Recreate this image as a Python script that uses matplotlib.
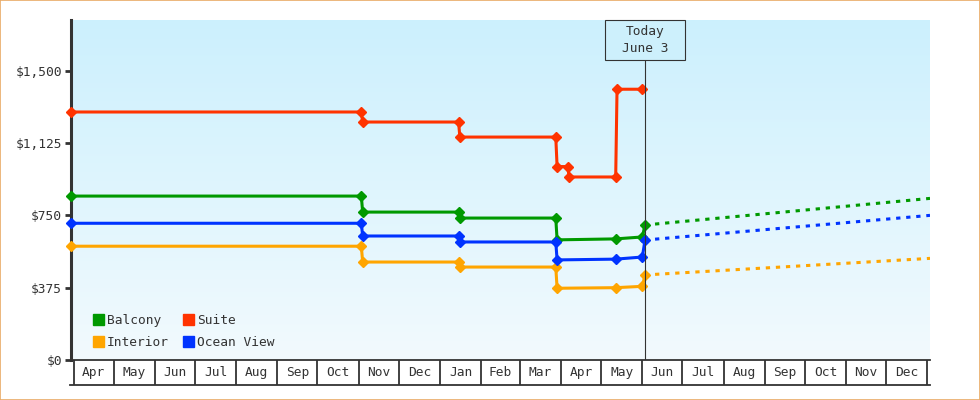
import matplotlib
matplotlib.use("Agg")
import numpy as np
import pandas as pd
import matplotlib.pyplot as plt
import matplotlib.dates as mdates
import matplotlib.transforms as mtransforms
from matplotlib.colors import LinearSegmentedColormap
from matplotlib.patches import Rectangle, Patch

# price history (step changes), dollars
hist_dates = pd.to_datetime(["2023-03-30", "2023-11-03", "2023-11-04", "2024-01-15", "2024-01-16",
                             "2024-03-28", "2024-03-29", "2024-05-12", "2024-06-01", "2024-06-03"])
balcony = [850, 850, 767, 767, 736, 736, 623, 628, 638, 700]
ocean_view = [709, 709, 643, 643, 612, 612, 519, 523, 534, 622]
interior = [590, 590, 508, 508, 482, 482, 372, 375, 382, 441]

suite_dates = pd.to_datetime(["2023-03-30", "2023-11-03", "2023-11-04", "2024-01-15", "2024-01-16",
                              "2024-03-28", "2024-03-29", "2024-04-06", "2024-04-07", "2024-05-12",
                              "2024-05-13", "2024-06-01"])
suite = [1286, 1286, 1234, 1234, 1156, 1156, 1003, 1003, 949, 949, 1404, 1404]

# forecast
fc_dates = pd.to_datetime(["2024-06-03", "2025-01-03"])
balcony_fc = [700, 838]
ocean_view_fc = [622, 750]
interior_fc = [441, 527]

today = pd.Timestamp("2024-06-03")
month_labels = ["Apr", "May", "Jun", "Jul", "Aug", "Sep", "Oct", "Nov", "Dec", "Jan", "Feb",
                "Mar", "Apr", "May", "Jun", "Jul", "Aug", "Sep", "Oct", "Nov", "Dec"]
y_ticks = [0, 375, 750, 1125, 1500]

GREEN, RED, BLUE, ORANGE = "#009900", "#ff3300", "#0033ff", "#ffa500"
DARK = "#333333"
FONT = "DejaVu Sans Mono"
FS = 9.3

fig = plt.figure(figsize=(9.8, 4.0), dpi=100)
ax = fig.add_axes([71 / 980, 40 / 400, 859 / 980, 340 / 400])

# background gradient
bg = LinearSegmentedColormap.from_list("bg", ["#ccf0fd", "#f2fafe"])
ax.imshow(np.linspace(0, 1, 256).reshape(-1, 1), cmap=bg, extent=(0, 1, 0, 1),
          transform=ax.transAxes, aspect="auto", zorder=0)

mk = dict(marker="D", markersize=5.6, markeredgewidth=1.0, lw=2.2, clip_on=False, zorder=3)
ax.plot(hist_dates, balcony, color=GREEN, **mk)
ax.plot(suite_dates, suite, color=RED, **mk)
ax.plot(hist_dates, interior, color=ORANGE, **mk)
ax.plot(hist_dates, ocean_view, color=BLUE, **mk)

fc = dict(lw=2.2, dashes=(1.4, 1.9), dash_capstyle="butt", zorder=2)
ax.plot(fc_dates, balcony_fc, color=GREEN, **fc)
ax.plot(fc_dates, ocean_view_fc, color=BLUE, **fc)
ax.plot(fc_dates, interior_fc, color=ORANGE, **fc)

ax.set_xlim(pd.Timestamp("2023-03-30"), pd.Timestamp("2025-01-03"))
ax.set_ylim(0, 1763)

# y axis
ax.set_yticks(y_ticks)
ax.set_yticklabels(["${:,.0f}".format(v) for v in y_ticks], fontfamily=FONT, fontsize=FS, color=DARK)
ax.tick_params(axis="y", direction="out", length=4.5, width=2.0, color=DARK, pad=2)

# x axis: month boxes
month_starts = pd.date_range("2023-04-01", "2025-01-01", freq="MS")
mids = [a + (b - a) / 2 for a, b in zip(month_starts[:-1], month_starts[1:])]
ax.set_xticks(month_starts)
ax.set_xticklabels([])
ax.set_xticks(mids, minor=True)
ax.set_xticklabels(month_labels, minor=True, fontfamily=FONT, fontsize=FS, color=DARK)
ax.tick_params(axis="x", which="major", direction="out", length=18, width=1.3, color=DARK)
ax.tick_params(axis="x", which="minor", length=0, pad=4)
ax.plot([-1 / 859, 1], [-25 / 340, -25 / 340], transform=ax.transAxes, color=DARK, lw=1.3, clip_on=False)

for s in ["top", "right"]:
    ax.spines[s].set_visible(False)
ax.spines["left"].set_linewidth(2.2)
ax.spines["left"].set_color(DARK)
ax.spines["bottom"].set_linewidth(1.3)
ax.spines["bottom"].set_color(DARK)

# today marker
trans = mtransforms.blended_transform_factory(ax.transData, ax.transAxes)
t = mdates.date2num(today)
box_h = 40 / 340
ax.add_patch(Rectangle((t - 30, 1 - box_h), 60, box_h, transform=trans, facecolor="#cdf0fc",
                       edgecolor=DARK, lw=0.8, zorder=5, clip_on=False))
ax.text(t, 1 - box_h / 2, "Today\nJune 3", transform=trans, ha="center", va="center",
        fontfamily=FONT, fontsize=FS, color=DARK, linespacing=1.35, zorder=6)
ax.plot([t, t], [0, 1 - box_h], transform=trans, color=DARK, lw=0.8, zorder=4)

# legend
handles = [Patch(color=GREEN, label="Balcony"), Patch(color=ORANGE, label="Interior"),
           Patch(color=RED, label="Suite"), Patch(color=BLUE, label="Ocean View")]
ax.legend(handles=handles, ncol=2, loc="lower left", bbox_to_anchor=(22 / 859, 11 / 340),
          frameon=False, borderpad=0, borderaxespad=0, handlelength=0.85, handleheight=0.85,
          handletextpad=0.25, columnspacing=1.05, labelspacing=0.7,
          prop={"family": FONT, "size": FS}, labelcolor=DARK)

# outer border
fig.patches.append(Rectangle((0.0005, 0.001), 0.999, 0.998, transform=fig.transFigure, fill=False,
                             edgecolor="#e9aa66", lw=1.2))

fig.savefig("out.png", dpi=100)
